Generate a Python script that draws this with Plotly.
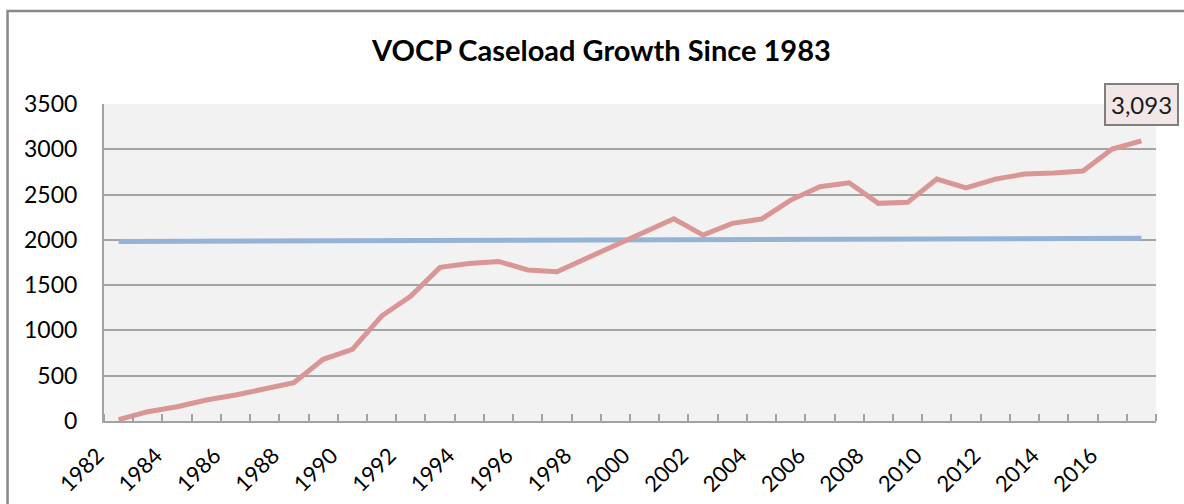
import plotly.graph_objects as go

# years (the original chart also plots the year column itself as a series)
years = [1982, 1983, 1984, 1985, 1986, 1987, 1988, 1989, 1990, 1991, 1992, 1993,
         1994, 1995, 1996, 1997, 1998, 1999, 2000, 2001, 2002, 2003, 2004, 2005,
         2006, 2007, 2008, 2009, 2010, 2011, 2012, 2013, 2014, 2015, 2016, 2017]

caseload = [15, 103, 158, 232, 287, 360, 423, 681, 791, 1159, 1380, 1696,
            1740, 1762, 1667, 1648, 1795, 1942, 2090, 2233, 2053, 2182, 2230, 2439,
            2586, 2630, 2403, 2414, 2671, 2575, 2671, 2726, 2737, 2759, 3002, 3093]

tick_years = [1982, 1984, 1986, 1988, 1990, 1992, 1994, 1996, 1998,
              2000, 2002, 2004, 2006, 2008, 2010, 2012, 2014, 2016]

font = "Lato, Carlito, Calibri, sans-serif"
grid = "#A3A3A3"

fig = go.Figure()
fig.add_trace(go.Scatter(x=years, y=years, mode="lines",
                         line=dict(color="#95B3D7", width=5), name="Year"))
fig.add_trace(go.Scatter(x=years, y=caseload, mode="lines",
                         line=dict(color="#D99694", width=5), name="Caseload"))

fig.add_annotation(x=years[-1], y=caseload[-1], text=f"{caseload[-1]:,}",
                   showarrow=False, yshift=36,
                   font=dict(family=font, size=24, color="#1a1a1a"),
                   bgcolor="#F2E7E7", bordercolor="#7F7F7F", borderwidth=2, borderpad=5)

# outer chart border (top and left visible, rest runs off the image)
fig.add_shape(type="rect", xref="paper", yref="paper",
              x0=-0.0917, x1=1.04, y0=-0.3, y1=1.2934,
              line=dict(color="#898989", width=2.5), layer="below")

fig.update_layout(
    width=1184, height=504,
    margin=dict(l=104, r=28, t=104, b=83),
    paper_bgcolor="white", plot_bgcolor="#F2F2F2",
    showlegend=False, hovermode=False,
    title=dict(text="<b>VOCP Caseload Growth Since 1983</b>", x=0.508, xanchor="center",
               y=0.9, yref="container", yanchor="middle",
               font=dict(family=font, size=29, color="black")),
    font=dict(family=font, color="black"),
)
fig.update_xaxes(range=[1981.5, 2017.5], tickvals=tick_years, tickangle=-45,
                 ticks="", ticklabelstandoff=11, ticklabelshift=-21, automargin=False,
                 tickfont=dict(size=22), showgrid=False, zeroline=False,
                 showline=True, linecolor=grid, linewidth=2,
                 minor=dict(ticks="inside", tick0=1981.5, dtick=1, ticklen=7,
                            tickcolor=grid, tickwidth=1.5, showgrid=False))
fig.update_yaxes(range=[0, 3500], dtick=500, tickfont=dict(size=23),
                 ticks="", ticklabelstandoff=20, automargin=False,
                 showgrid=True, gridcolor=grid, gridwidth=1.5, zeroline=False,
                 showline=True, linecolor=grid, linewidth=2)

fig.write_html("out.html", config={"displayModeBar": False},
               post_script="document.body.style.margin='0';")
